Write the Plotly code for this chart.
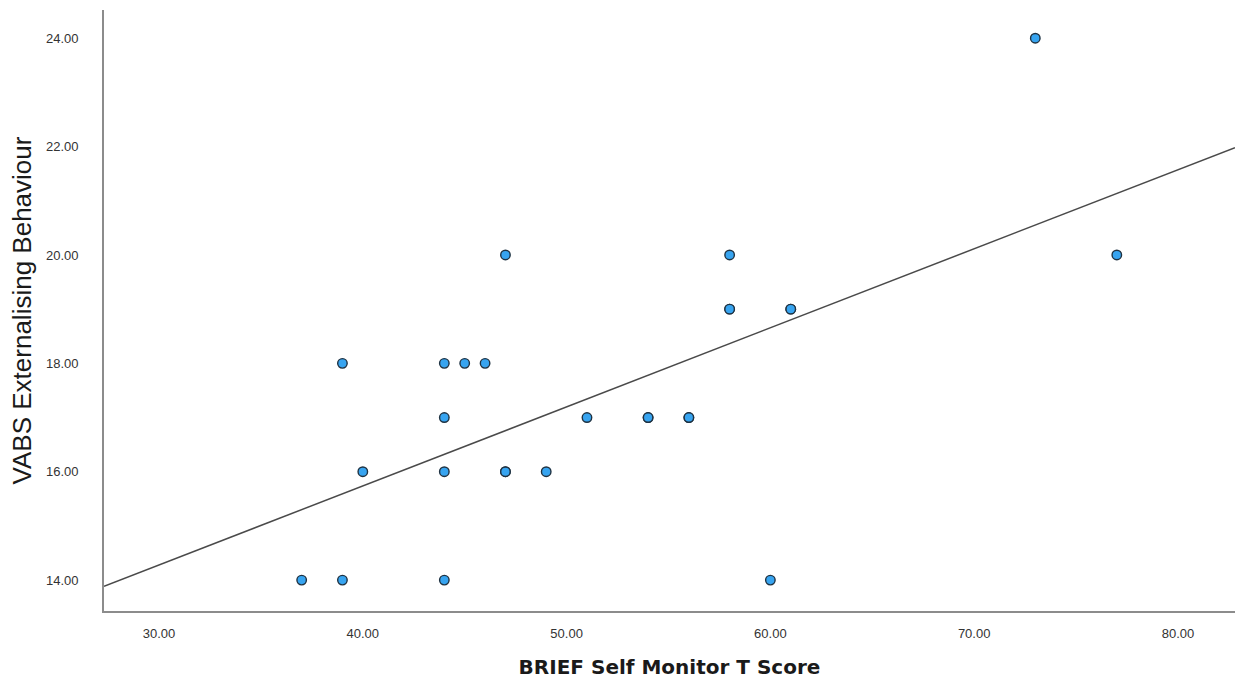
import plotly.graph_objects as go
import numpy as np

# BRIEF Self Monitor T Score (x) and VABS Externalising Behaviour (y)
x_vals = [37, 39, 44, 60, 40, 44, 47, 47, 49, 44, 51, 54, 54, 56, 56,
          39, 44, 45, 46, 47, 58, 77, 58, 58, 61, 61, 73]
y_vals = [14, 14, 14, 14, 16, 16, 16, 16, 16, 17, 17, 17, 17, 17, 17,
          18, 18, 18, 18, 20, 20, 20, 19, 19, 19, 19, 24]

x_range = [27.3, 82.8]
y_range = [13.43, 24.52]

slope, intercept = np.polyfit(np.array(x_vals, float), np.array(y_vals, float), 1)
line_x = np.array(x_range)
line_y = intercept + slope * line_x

fig = go.Figure()
fig.add_trace(go.Scatter(
    x=line_x, y=line_y, mode="lines",
    line=dict(color="#4a4a4a", width=1.5),
    showlegend=False, hoverinfo="skip"))
fig.add_trace(go.Scatter(
    x=x_vals, y=y_vals, mode="markers",
    marker=dict(size=9.5, color="#37a4f0", line=dict(color="#1f3242", width=1.4)),
    showlegend=False))

font_family = "Liberation Sans, Arial, sans-serif"
fig.update_layout(
    width=1235, height=686,
    margin=dict(l=104, r=0, t=10, b=75),
    paper_bgcolor="white", plot_bgcolor="white",
    font=dict(family=font_family, color="#333333"),
    xaxis=dict(
        range=x_range, dtick=10, tick0=0, tickformat=".2f",
        showgrid=False, zeroline=False,
        showline=True, linecolor="#8c8c8c", linewidth=1.6,
        ticks="", ticklabelstandoff=10,
        tickfont=dict(size=13, color="#333333"),
        title=dict(text="<b>BRIEF Self Monitor T Score</b>",
                   font=dict(family="DejaVu Sans, sans-serif", size=20, color="#1a1a1a"),
                   standoff=20),
    ),
    yaxis=dict(
        range=y_range, dtick=2, tick0=0, tickformat=".2f",
        showgrid=False, zeroline=False,
        showline=True, linecolor="#8c8c8c", linewidth=1.6,
        ticks="", ticklabelstandoff=21,
        tickfont=dict(size=13, color="#333333"),
        title=dict(text="VABS Externalising Behaviour",
                   font=dict(size=26, color="#1a1a1a"), standoff=7),
    ),
)
fig.write_html(
    "out.html",
    config={"displayModeBar": False},
    post_script="document.body.style.margin='0';document.body.style.overflow='hidden';",
)
